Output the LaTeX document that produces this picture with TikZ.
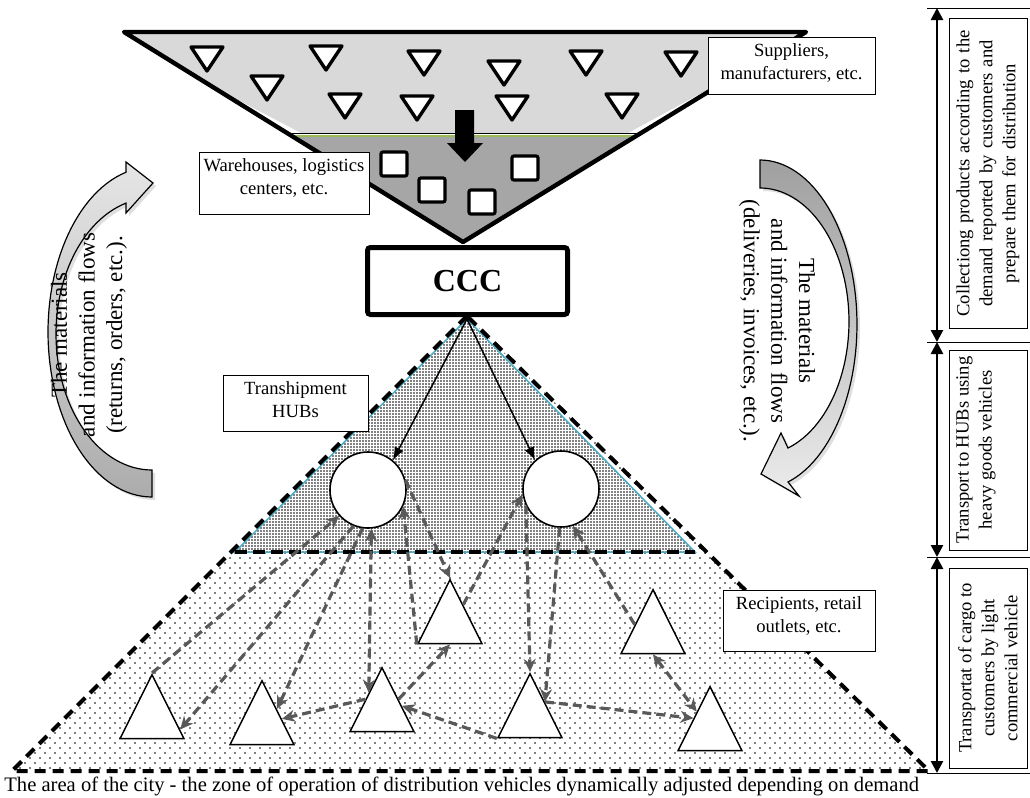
\documentclass[tikz,border=0pt]{standalone}
\usepackage{fontspec}
\setmainfont{Liberation Serif}
\usetikzlibrary{arrows.meta, shapes.geometric, patterns.meta, calc, shadows}
\definecolor{lightfill}{HTML}{D9D9D9}
\definecolor{darkfill}{HTML}{A6A6A6}
\definecolor{hubblue}{HTML}{4BACC6}
\definecolor{flowgray}{HTML}{595959}
\definecolor{linegreen}{HTML}{9BBB59}
\newcommand{\lblfont}{\fontsize{9.3}{11.5}\selectfont}
\newcommand{\flowfont}{\fontsize{11.5}{13.8}\selectfont}
\tikzstyle{label box}=[draw, line width=0.5pt, fill=white, align=center, inner xsep=1.5pt, inner ysep=3pt, font=\lblfont]
\tikzstyle{stage box}=[draw, line width=0.5pt, fill=white, align=center, rotate=90, inner sep=1.5pt, minimum height=39pt, font=\lblfont]
\tikzstyle{supplier}=[draw, fill=white, line width=1.7pt, line join=round]
\tikzstyle{store}=[draw, fill=white, line width=1.6pt, rounded corners=1pt]
\tikzstyle{hub}=[circle, draw, fill=white, line width=0.8pt, minimum size=38pt, inner sep=0pt]
\tikzstyle{recipient}=[isosceles triangle, isosceles triangle apex angle=53.13, shape border rotate=90, draw, fill=white, line width=0.75pt, minimum width=32pt, minimum height=32pt, inner sep=0pt, anchor=apex]
\tikzstyle{truck}=[-{Latex[length=6.5pt,width=5pt]}, line width=0.75pt]
\tikzstyle{van}=[draw=flowgray, line width=1.6pt, dash pattern=on 4.5pt off 2.5pt, -{Stealth[length=6.5pt,width=6pt]}]
\tikzstyle{both ways}=[{Stealth[length=6.5pt,width=6pt]}-{Stealth[length=6.5pt,width=6pt]}]
\tikzstyle{zone}=[line width=2pt, dash pattern=on 5.5pt off 3.5pt]
\tikzstyle{span}=[{Triangle[length=6pt,width=6pt]}-{Triangle[length=6pt,width=6pt]}, line width=1.3pt]
\tikzstyle{bend arrow}=[draw, line width=0.6pt, drop shadow={opacity=0.25, shadow xshift=1.5pt, shadow yshift=-1.5pt}]

\begin{document}
\begin{tikzpicture}[x=0.5pt, y=-0.5pt]
	\useasboundingbox (0,0) rectangle (1030,798);

	\begin{scope}
	\coordinate (zonetop) at (467,316);
	\coordinate (zoneL) at (12,771);
	\coordinate (zoneR) at (929,771);
	\coordinate (hubtop) at (467,319);
	\coordinate (hubleft) at (235,552);
	\coordinate (hubright) at (695,552);
	\fill[white] (zonetop) -- (zoneL) -- (zoneR) -- cycle;
	\fill[pattern={Dots[distance=5pt, radius=0.45pt]}, pattern color=black] (zonetop) -- (zoneL) -- (zoneR) -- cycle;
	\fill[pattern={Dots[distance=5pt, radius=0.45pt, xshift=2.5pt, yshift=2.5pt]}, pattern color=black] (zonetop) -- (zoneL) -- (zoneR) -- cycle;
	\fill[white] (hubtop) -- (hubleft) -- (hubright) -- cycle;
	\fill[pattern={Dots[distance=1.5pt, radius=0.45pt]}, pattern color=black] (hubtop) -- (hubleft) -- (hubright) -- cycle;
	\draw[hubblue, line width=0.75pt] (hubtop) -- (hubleft) -- (hubright) -- cycle;
	\draw[zone] (zonetop) -- (zoneL) -- (zoneR) -- cycle;
	\draw[zone, dash pattern=on 6pt off 3pt] (hubleft) -- (hubright);
	\end{scope}

	\node[recipient] (t1) at (152,673) {};
	\node[recipient] (t2) at (262,679) {};
	\node[recipient] (t3) at (382,666) {};
	\node[recipient] (t4) at (450,578) {};
	\node[recipient] (t5) at (530,672) {};
	\node[recipient] (t6) at (653,588) {};
	\node[recipient] (t7) at (710,685) {};
	\node[hub] (hubL) at (368,490) {};
	\node[hub] (hubR) at (561,489) {};

	\draw[truck] (hubtop) -- (hubL.50);
	\draw[truck] (hubtop) -- (hubR.132);

	\draw[van] (t1.apex) -- (hubL.222);
	\draw[van] (hubL.248) -- ($(t1.apex)!.85!(t1.right corner)$);
	\draw[van] (hubL.262) -- ($(t2.apex)!.45!(t2.right corner)$);
	\draw[van, both ways] (hubL.275) -- ($(t3.apex)!.4!(t3.left corner)$);
	\draw[van] (t4.left corner) -- (hubL.-25);
	\draw[van] (hubL.15) -- (t4.apex);
	\draw[van] ($(t4.apex)!.4!(t4.right corner)$) -- (hubR.188);
	\draw[van] (hubR.205) -- (t5.apex);
	\draw[van] (hubR.268) -- ($(t5.apex)!.45!(t5.right corner)$);
	\draw[van] ($(t6.apex)!.55!(t6.left corner)$) -- (hubR.-72);
	\draw[van] ($(t3.apex)!.5!(t3.left corner)$) -- ($(t2.apex)!.6!(t2.right corner)$);
	\draw[van] ($(t3.apex)!.5!(t3.right corner)$) -- (t4.lower side);
	\draw[van] (t5.left corner) -- ($(t3.apex)!.6!(t3.right corner)$);
	\draw[van] ($(t5.apex)!.45!(t5.right corner)$) -- ($(t7.apex)!.5!(t7.left corner)$);
	\draw[van, both ways] (t6.lower side) -- ($(t7.apex)!.4!(t7.left corner)$);

	\begin{scope}
	\coordinate (ftl) at (124,32);
	\coordinate (ftr) at (806,32);
	\coordinate (fapex) at (463,242);
	\fill[lightfill] (ftl) -- (ftr) -- (744,70) -- (628,133) -- (301,133) -- (200,80) -- cycle;
	\fill[darkfill] (292,135) -- (636,135) -- (fapex) -- cycle;
	\draw[line width=0.5pt] (292,133.5) -- (636,133.5);
	\draw[linegreen, line width=1pt] (293,136) -- (635,136);
	\draw[line width=2.2pt, line join=round, line cap=round] (ftl) -- (fapex) -- (ftr) -- cycle;
	\foreach \x/\y in {207/58, 326/57, 424/62, 504/72, 586/62, 681/63, 267/87, 345/105, 417/107, 512/107, 622/105}
		\draw[supplier, shift={(\x,\y)}] (-16,-11) -- (16,-11) -- (0,13) -- cycle;
	\foreach \x/\y in {394/164, 432/190, 482/202, 525/168}
		\draw[store, shift={(\x,\y)}] (-13,-12) rectangle (13,12);
	\fill (455,110) -- (474,110) -- (474,143) -- (483,143) -- (465,162) -- (447,143) -- (455,143) -- cycle;
	\end{scope}

	\node[draw, line width=2.5pt, rounded corners=1.5pt, minimum width=100pt, minimum height=33.5pt, font=\fontsize{16}{19}\selectfont\bfseries] (ccc) at (467.5,281) {CCC};

	\draw[bend arrow, top color=gray!20, bottom color=gray!65]
		plot[domain=90:255.5, samples=60, variable=\t] ({152+104*cos(\t)}, {332+165*sin(\t)})
		-- (126,162) -- (153,183) -- (126,213)
		-- plot[domain=254.3:90, samples=60, variable=\t] ({152+96*cos(\t)}, {334+136*sin(\t)})
		-- cycle;
	\draw[bend arrow, top color=gray!75, bottom color=gray!15]
		plot[domain=-90:73.2, samples=60, variable=\t] ({760+97*cos(\t)}, {324.5+164.5*sin(\t)})
		-- (799,496) -- (761,474) -- (781,433)
		-- plot[domain=71.66:-90, samples=60, variable=\t] ({760+89*cos(\t)}, {321.4+133.4*sin(\t)})
		-- cycle;
	\node[rotate=90, align=center, font=\flowfont] (flowback) at (89,335) {The materials\\and information flows\\(returns, orders, etc.).};
	\node[rotate=-90, align=center, font=\flowfont] (flowfwd) at (777,321) {The materials\\and information flows\\(deliveries, invoices, etc.).};

	\node[label box, anchor=north, minimum width=83.5pt, text depth=4.5pt] (suppliers) at (791.5,37) {Suppliers,\\manufacturers, etc.};
	\node[label box, anchor=north, minimum width=85pt, text depth=7pt] (warehouses) at (284,152) {Warehouses, logistics\\centers, etc.};
	\node[label box, anchor=north, minimum width=72.5pt, text depth=4pt] (tranship) at (295.5,375) {Transhipment\\HUBs};
	\node[label box, anchor=north, minimum width=76pt, text depth=6.5pt] (recipients) at (799,590) {Recipients, retail\\outlets, etc.};

	\begin{scope}
	\coordinate (b0) at (937,8);
	\coordinate (b1) at (937,342);
	\coordinate (b2) at (937,557);
	\coordinate (b3) at (937,773);
	\foreach \b in {b0,b1,b2,b3}
		\draw[line width=0.5pt] ($(\b)+(-10,0)$) -- ($(\b)+(93,0)$);
	\draw[span] (b0) -- (b1);
	\draw[span] (b1) -- (b2);
	\draw[span] (b2) -- (b3);
	\node[stage box, minimum width=154.5pt, text width=152pt] (stage1) at (988,173.5) {Collectiong products according to the\\demand reported by customers and\\prepare them for distribution};
	\node[stage box, minimum width=100pt, text depth=14pt] (stage2) at (988,450) {Transport to HUBs using\\heavy goods vehicles};
	\node[stage box, minimum width=100pt] (stage3) at (988,668) {Transportat of cargo to\\customers by light\\commercial vehicle};
	\end{scope}

	\node[anchor=west, inner sep=0pt, font=\fontsize{10.3}{12.5}\selectfont] (area) at (4,786) {The area of the city - the zone of operation of distribution vehicles dynamically adjusted depending on demand};
\end{tikzpicture}
\end{document}
